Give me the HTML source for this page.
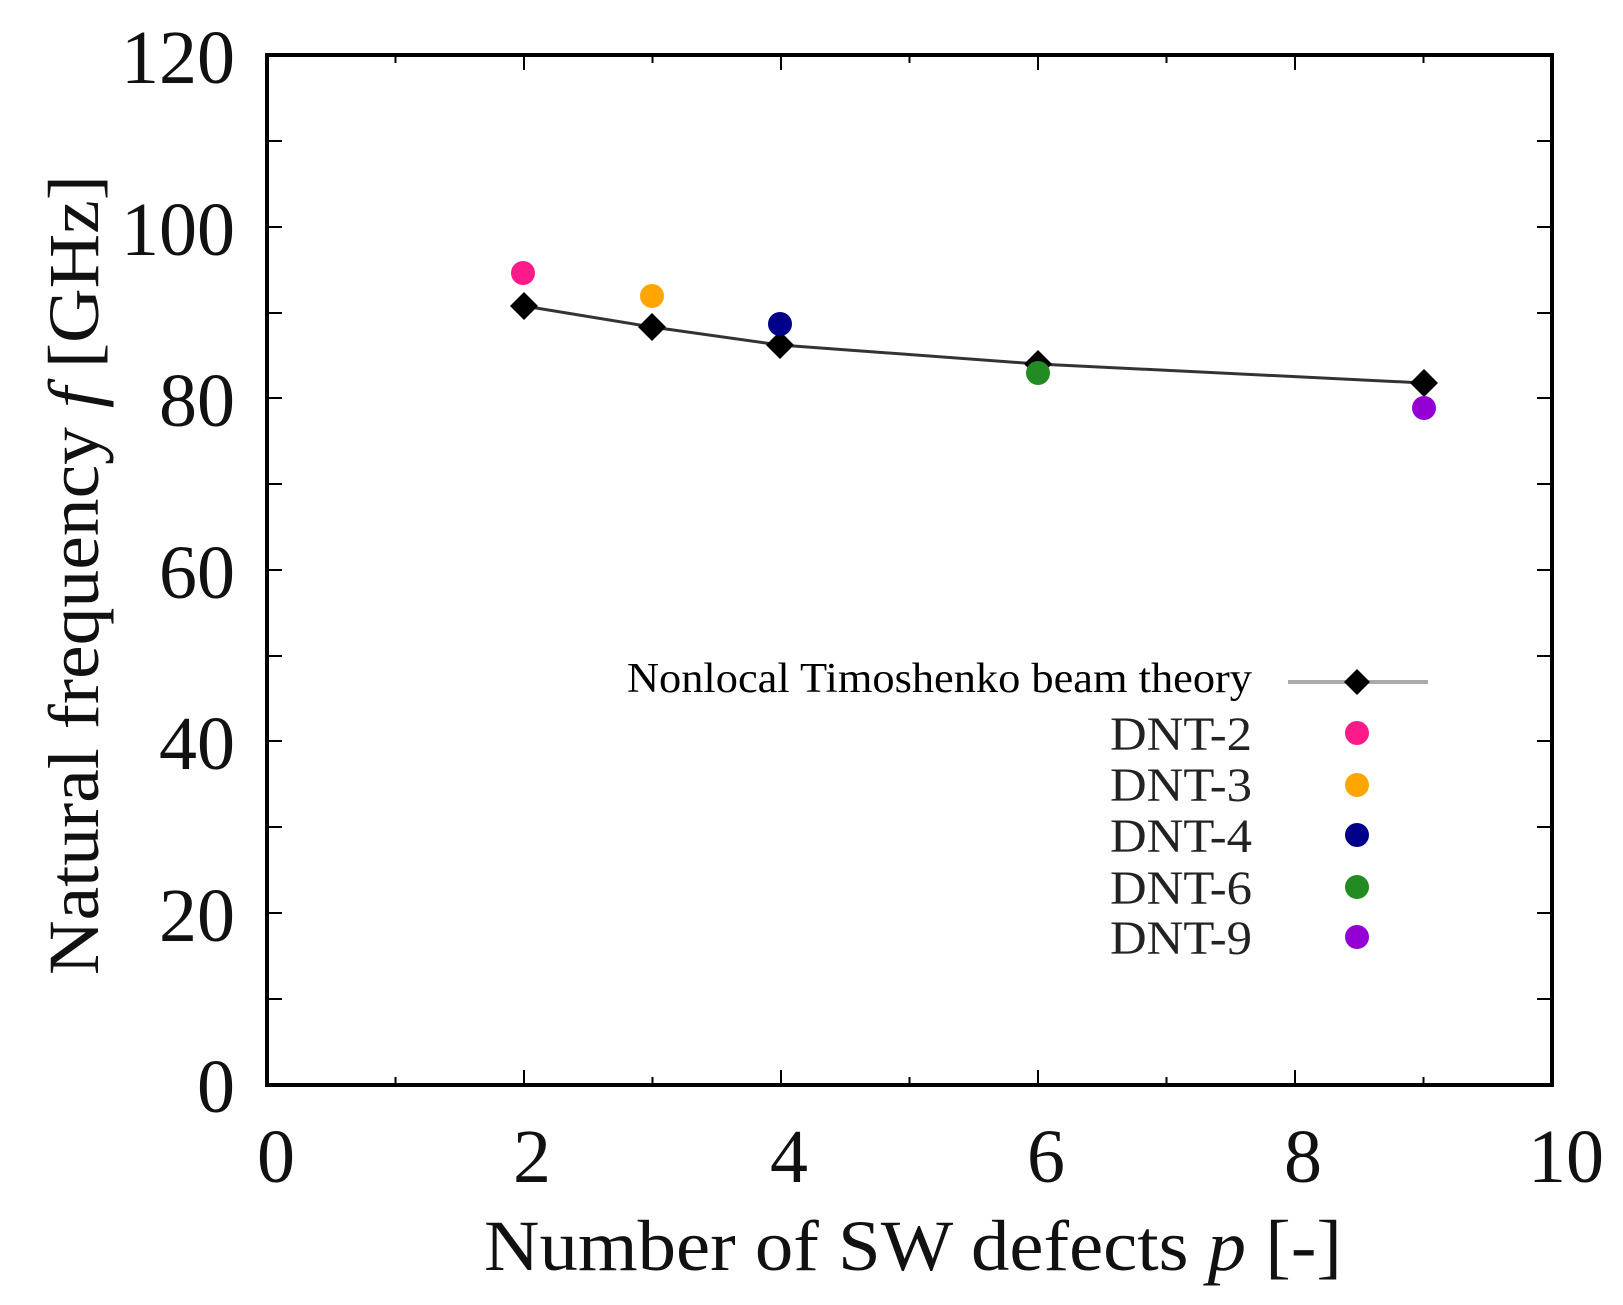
<!DOCTYPE html>
<html><head><meta charset="utf-8"><style>html,body{margin:0;padding:0;background:#fff}svg{display:block}</style></head>
<body>
<svg width="1623" height="1305" viewBox="0 0 1623 1305" xmlns="http://www.w3.org/2000/svg" font-family="Liberation Serif, serif">
<g stroke="#000" stroke-width="2">
<!-- x ticks -->
<path d="M395.5,1085v-8M652.5,1085v-8M909.5,1085v-8M1166.5,1085v-8M1423.5,1085v-8
M524,1085v-15M781,1085v-15M1038,1085v-15M1295,1085v-15
M395.5,55v8M652.5,55v8M909.5,55v8M1166.5,55v8M1423.5,55v8
M524,55v15M781,55v15M1038,55v15M1295,55v15"/>
<!-- y ticks -->
<path d="M267,999h15M267,913h15M267,827h15M267,741h15M267,656h15M267,570h15M267,484h15M267,398h15M267,313h15M267,227h15M267,141h15
M1552,999h-15M1552,913h-15M1552,827h-15M1552,741h-15M1552,656h-15M1552,570h-15M1552,484h-15M1552,398h-15M1552,313h-15M1552,227h-15M1552,141h-15"/>
</g>
<rect x="267" y="55" width="1285" height="1030" fill="none" stroke="#000" stroke-width="4"/>
<g font-size="76" text-anchor="end" fill="#111">
<text x="235" y="1112">0</text><text x="235" y="941">20</text><text x="235" y="769">40</text>
<text x="235" y="598">60</text><text x="235" y="426">80</text><text x="235" y="255">100</text><text x="235" y="83">120</text>
</g>
<g font-size="76" text-anchor="middle" fill="#111">
<text x="276" y="1182">0</text><text x="532" y="1182">2</text><text x="789" y="1182">4</text>
<text x="1046" y="1182">6</text><text x="1303" y="1182">8</text><text x="1566" y="1182">10</text>
</g>
<text x="484" y="1270" font-size="72" textLength="858" lengthAdjust="spacingAndGlyphs" fill="#111">Number of SW defects <tspan font-style="italic">p</tspan> [-]</text>
<text transform="translate(98,975) rotate(-90)" font-size="72" textLength="800" lengthAdjust="spacingAndGlyphs" fill="#111">Natural frequency <tspan font-style="italic">f</tspan> [GHz]</text>
<polyline points="524,306 652,327 780,345 1038,364 1424,383" fill="none" stroke="#333" stroke-width="3"/>
<g fill="#000">
<path d="M524,292l14,14l-14,14l-14,-14z"/><path d="M652,313l14,14l-14,14l-14,-14z"/>
<path d="M780,331l14,14l-14,14l-14,-14z"/><path d="M1038,350l14,14l-14,14l-14,-14z"/>
<path d="M1424,369l14,14l-14,14l-14,-14z"/>
</g>
<circle cx="523" cy="273" r="12" fill="#ff1a8c"/>
<circle cx="652" cy="296" r="12" fill="#ffa500"/>
<circle cx="780" cy="324" r="12" fill="#00008b"/>
<circle cx="1038" cy="373" r="12" fill="#228b22"/>
<circle cx="1424" cy="408" r="12" fill="#9400d3"/>
<!-- legend -->
<text x="1252" y="692" font-size="42" text-anchor="end" textLength="625" lengthAdjust="spacingAndGlyphs" fill="#000">Nonlocal Timoshenko beam theory</text>
<line x1="1288" y1="682" x2="1428" y2="682" stroke="#aaa" stroke-width="4"/>
<path d="M1357,669l13,13l-13,13l-13,-13z" fill="#000"/>
<g font-size="48" text-anchor="end" fill="#222">
<text x="1252" y="750" textLength="142" lengthAdjust="spacingAndGlyphs">DNT-2</text>
<text x="1252" y="801" textLength="142" lengthAdjust="spacingAndGlyphs">DNT-3</text>
<text x="1252" y="852" textLength="142" lengthAdjust="spacingAndGlyphs">DNT-4</text>
<text x="1252" y="904" textLength="142" lengthAdjust="spacingAndGlyphs">DNT-6</text>
<text x="1252" y="954" textLength="142" lengthAdjust="spacingAndGlyphs">DNT-9</text>
</g>
<circle cx="1357" cy="733" r="12" fill="#ff1a8c"/>
<circle cx="1357" cy="785" r="12" fill="#ffa500"/>
<circle cx="1357" cy="835" r="12" fill="#00008b"/>
<circle cx="1357" cy="887" r="12" fill="#228b22"/>
<circle cx="1357" cy="937" r="12" fill="#9400d3"/>
</svg>
</body></html>
